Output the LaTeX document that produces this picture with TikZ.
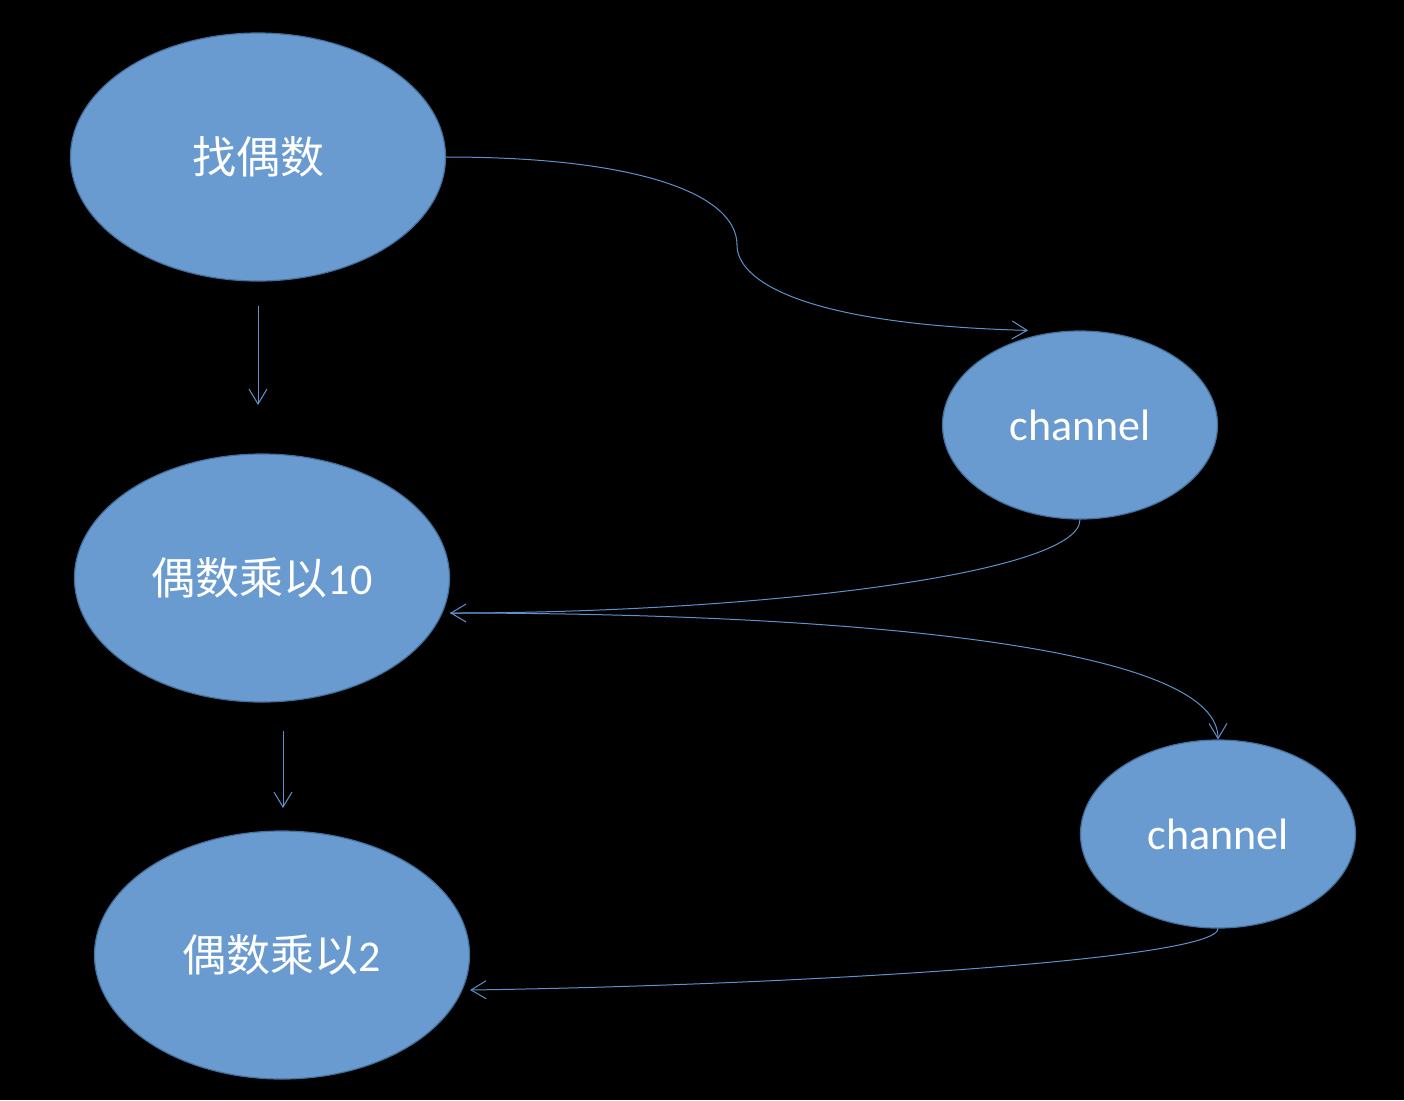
\documentclass[tikz,border=0pt]{standalone}
\usepackage{fontspec}
\setmainfont{Carlito}
\newfontfamily\cjk{Noto Sans CJK SC}
\usetikzlibrary{shapes.geometric,arrows.meta}
\definecolor{ellfill}{RGB}{106,155,208}
\definecolor{elldraw}{RGB}{65,113,156}
\definecolor{linkcol}{RGB}{96,145,205}
\tikzset{
  ell/.style={ellipse, fill=ellfill, draw=elldraw, line width=0.6pt, inner sep=0pt,
    text=white, font=\fontsize{22pt}{26pt}\selectfont},
  bigell/.style={ell, minimum width=187.5pt, minimum height=124pt},
  chell/.style={ell, minimum width=137.5pt, minimum height=94pt},
  link/.style={draw=linkcol, line width=0.5pt, -{Straight Barb[length=7.5pt,width=9pt]}},
  linkplain/.style={draw=linkcol, line width=0.5pt}
}
\begin{document}
\begin{tikzpicture}[x=0.5pt,y=-0.5pt]
\fill[black] (0,0) rectangle (1404,1100);
\useasboundingbox (0,0) rectangle (1404,1100);

\node[bigell] (n1) at (258,157) {\cjk 找偶数};
\node[bigell] (n2) at (262,578) {{\cjk 偶数乘以}10};
\node[bigell] (n3) at (282,955) {{\cjk 偶数乘以}2};
\node[chell] (c1) at (1080,425) {channel};
\node[chell] (c2) at (1218,834) {channel};

\coordinate (v1s) at (258,306);
\coordinate (v1e) at (258,405);
\coordinate (v2s) at (283,731);
\coordinate (v2e) at (283,808);
\coordinate (m1) at (737,245);
\coordinate (t1) at ([xshift=-26pt]c1.north);
\coordinate (t2) at ([yshift=-17.5pt]n2.east);
\coordinate (t4) at ([yshift=-17.5pt]n3.east);

\draw[link] (v1s) -- (v1e);
\draw[link] (v2s) -- (v2e);

\draw[linkplain] (n1.east) .. controls +(195,0) and +(0,-50) .. (m1);
\draw[link] (m1) .. controls +(0,35) and +(-228,-6) .. (t1);

\draw[link] (c1.south) .. controls +(0,55) and +(300,0) .. (t2);
\draw[link] (t2) .. controls +(350,0) and +(0,-100) .. (c2.north);
\draw[link] (c2.south) .. controls +(0,31) and +(330,-5) .. (t4);
\end{tikzpicture}
\end{document}
